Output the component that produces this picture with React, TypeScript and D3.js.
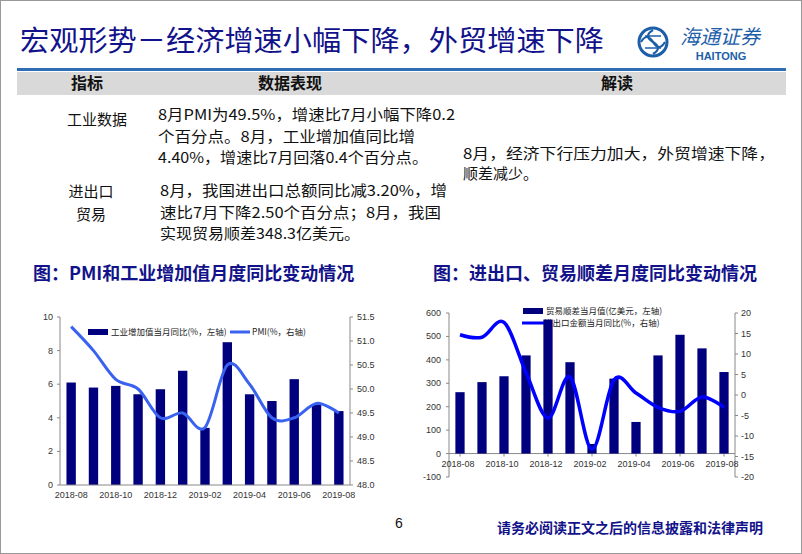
import React from 'react';
import * as d3 from 'd3';

const months = ['2018-08','2018-09','2018-10','2018-11','2018-12','2019-01','2019-02','2019-03','2019-04','2019-05','2019-06','2019-07','2019-08'];
const xTickLabels = ['2018-08','2018-10','2018-12','2019-02','2019-04','2019-06','2019-08'];

// Chart A: PMI & industrial value added
const industrialYoY = [6.1, 5.8, 5.9, 5.4, 5.7, 6.8, 3.4, 8.5, 5.4, 5.0, 6.3, 4.8, 4.4];
const pmi = [51.3, 50.8, 50.2, 50.0, 49.4, 49.5, 49.2, 50.5, 50.1, 49.4, 49.4, 49.7, 49.5];
const leftTicksA = [0, 2, 4, 6, 8, 10];
const rightTicksA = [48.0, 48.5, 49.0, 49.5, 50.0, 50.5, 51.0, 51.5];

// Chart B: trade balance & trade YoY
const tradeBalance = [262, 305, 330, 419, 572, 390, 41, 320, 135, 419, 507, 449, 348];
const tradeYoY = [14.7, 14.1, 17.7, 5.5, -5.6, 4.4, -13.3, 3.7, 0.5, -3.0, -4.0, -0.5, -3.0];
const leftTicksB = [-100, 0, 100, 200, 300, 400, 500, 600];
const rightTicksB = [-20, -15, -10, -5, 0, 5, 10, 15, 20];

const titleText = '宏观形势－经济增速小幅下降，外贸增速下降';
const tableHeaders = ['指标', '数据表现', '解读'];
const row1Label = ['工业数据'];
const row1Lines = ['8月PMI为49.5%，增速比7月小幅下降0.2', '个百分点。8月，工业增加值同比增', '4.40%，增速比7月回落0.4个百分点。'];
const row1Widths = [297, 257, 270];
const row2Label = ['进出口', '贸易'];
const row2Lines = ['8月，我国进出口总额同比减3.20%，增', '速比7月下降2.50个百分点；8月，我国', '实现贸易顺差348.3亿美元。'];
const row2Widths = [287, 281, 200];
const interpLines = ['8月，经济下行压力加大，外贸增速下降，', '顺差减少。'];
const interpWidths = [312, 75];
const chartTitleA = '图：PMI和工业增加值月度同比变动情况';
const chartTitleB = '图：进出口、贸易顺差月度同比变动情况';
const legendA = ['工业增加值当月同比(%，左轴)', 'PMI(%，右轴)'];
const legendB = ['贸易顺差当月值(亿美元，左轴)', '进出口金额当月同比(%，右轴)'];
const footerText = '请务必阅读正文之后的信息披露和法律声明';

const NAVY = '#12128a';
const BAR = '#00007f';
const CJK = '"Noto Sans CJK SC", sans-serif';
const BODY = '"Liberation Sans Narrow", "Noto Sans CJK SC", sans-serif';
const AX = '"Liberation Sans", Arial, sans-serif';

function ChartA() {
  const x = d3.scaleBand().domain(months).range([60, 350]).paddingInner(0.58).paddingOuter(0.29);
  const yL = d3.scaleLinear().domain([0, 10]).range([485, 317]);
  const yR = d3.scaleLinear().domain([48, 51.5]).range([485, 317]);
  const cx = (m: string) => (x(m) as number) + x.bandwidth() / 2;
  const line = d3.line<number>().x((_, i) => cx(months[i])).y(d => yR(d)).curve(d3.curveCardinal.tension(0));
  return (
    <g>
      <defs><clipPath id="clipA"><rect x={20} y={290} width={370} height={208} /></clipPath></defs>
      <g clipPath="url(#clipA)">
        {months.map((m, i) => (
          <rect key={m} x={x(m)} y={yL(industrialYoY[i])} width={x.bandwidth()} height={yL(0) - yL(industrialYoY[i])} fill={BAR} />
        ))}
        <path d={line(pmi) || ''} fill="none" stroke="#3a62f0" strokeWidth={3} />
        <line x1={60} x2={350} y1={485} y2={485} stroke="#888" />
        <line x1={60} x2={60} y1={317} y2={485} stroke="#888" />
        <line x1={350} x2={350} y1={317} y2={485} stroke="#888" />
        {leftTicksA.map(t => (
          <g key={t}>
            <line x1={57} x2={60} y1={yL(t)} y2={yL(t)} stroke="#888" />
            <text x={53} y={yL(t) + 3} textAnchor="end" fontSize={9} fontFamily={AX} fill="#333">{t}</text>
          </g>
        ))}
        {rightTicksA.map(t => (
          <g key={t}>
            <line x1={350} x2={353} y1={yR(t)} y2={yR(t)} stroke="#888" />
            <text x={357} y={yR(t) + 3} fontSize={9} fontFamily={AX} fill="#333">{t.toFixed(1)}</text>
          </g>
        ))}
        {xTickLabels.map(m => (
          <text key={m} x={cx(m)} y={498} textAnchor="middle" fontSize={9} fontFamily={AX} fill="#333">{m}</text>
        ))}
        <rect x={88} y={329} width={20} height={6} fill={BAR} />
        <text x={111} y={335} fontSize={8.5} fontFamily={CJK} fill="#222">{legendA[0]}</text>
        <line x1={230} x2={250} y1={332} y2={332} stroke="#3a62f0" strokeWidth={3} />
        <text x={252} y={335} fontSize={8.5} fontFamily={CJK} fill="#222">{legendA[1]}</text>
      </g>
    </g>
  );
}

function ChartB() {
  const x = d3.scaleBand().domain(months).range([449, 735]).paddingInner(0.58).paddingOuter(0.29);
  const yL = d3.scaleLinear().domain([-100, 600]).range([477, 313]);
  const yR = d3.scaleLinear().domain([-20, 20]).range([477, 313]);
  const cx = (m: string) => (x(m) as number) + x.bandwidth() / 2;
  const line = d3.line<number>().x((_, i) => cx(months[i])).y(d => yR(d)).curve(d3.curveCardinal.tension(0));
  return (
    <g>
      <line x1={449} x2={735} y1={yL(0)} y2={yL(0)} stroke="#888" />
      {xTickLabels.map(m => (
        <line key={m} x1={cx(m)} x2={cx(m)} y1={yL(0)} y2={yL(0) + 3} stroke="#888" />
      ))}
      <rect x={523} y={308} width={20} height={6} fill={BAR} />
      <text x={546} y={314} fontSize={8.5} fontFamily={CJK} fill="#222">{legendB[0]}</text>
      <line x1={522} x2={550} y1={323} y2={323} stroke="#0000ff" strokeWidth={3} />
      <text x={544} y={326} fontSize={8.5} fontFamily={CJK} fill="#222">{legendB[1]}</text>
      {months.map((m, i) => (
        <rect key={m} x={x(m)} y={yL(tradeBalance[i])} width={x.bandwidth()} height={yL(0) - yL(tradeBalance[i])} fill={BAR} />
      ))}
      <path d={line(tradeYoY) || ''} fill="none" stroke="#0000ff" strokeWidth={3.5} />
      <line x1={449} x2={449} y1={313} y2={477} stroke="#888" />
      <line x1={735} x2={735} y1={313} y2={477} stroke="#888" />
      {leftTicksB.map(t => (
        <g key={t}>
          <line x1={446} x2={449} y1={yL(t)} y2={yL(t)} stroke="#888" />
          <text x={441} y={yL(t) + 3} textAnchor="end" fontSize={9} fontFamily={AX} fill="#333">{t}</text>
        </g>
      ))}
      {rightTicksB.map(t => (
        <g key={t}>
          <line x1={735} x2={738} y1={yR(t)} y2={yR(t)} stroke="#888" />
          <text x={741} y={yR(t) + 3} fontSize={9} fontFamily={AX} fill="#333">{t}</text>
        </g>
      ))}
      {xTickLabels.map(m => (
        <text key={m} x={cx(m) - 2} y={467} textAnchor="middle" fontSize={9} fontFamily={AX} fill="#333">{m}</text>
      ))}
    </g>
  );
}

function Logo() {
  return (
    <g>
      <circle cx={653} cy={42} r={14} fill="none" stroke="#1d5ea8" strokeWidth={3} />
      <path d="M641,42 Q647,32 653,42 T665,42" fill="none" stroke="#1d5ea8" strokeWidth={2.2} />
      <path d="M653,30 Q643,36 653,42 T653,54" fill="none" stroke="#1d5ea8" strokeWidth={2.2} />
      <line x1={645} x2={661} y1={36} y2={36} stroke="#1d5ea8" strokeWidth={1.5} />
      <line x1={645} x2={661} y1={48} y2={48} stroke="#1d5ea8" strokeWidth={1.5} />
      <text x={680} y={44} fontSize={20} fontFamily={CJK} fontStyle="italic" fill="#1d5ea8">海通证券</text>
      <text x={721} y={60} textAnchor="middle" fontSize={11} fontWeight="bold" fontFamily={AX} fill="#1d5ea8">HAITONG</text>
    </g>
  );
}

export default function App() {
  return (
    <svg width={802} height={554} style={{ position: 'absolute', left: 0, top: 0, background: '#fff' }}>
      <rect x={0.5} y={0.5} width={801} height={553} fill="#fff" stroke="#999" />
      <text x={20} y={51} fontSize={28} fontFamily={CJK} fill={NAVY} textLength={584} lengthAdjust="spacingAndGlyphs">{titleText}</text>
      <Logo />
      <rect x={17} y={68} width={769} height={3} fill="#2f6db5" />
      <rect x={17} y={72} width={769} height={23} fill="#d9d9d9" />
      <text x={87} y={89} textAnchor="middle" fontSize={16} fontWeight="bold" fontFamily={CJK} fill="#111">{tableHeaders[0]}</text>
      <text x={290} y={89} textAnchor="middle" fontSize={16} fontWeight="bold" fontFamily={CJK} fill="#111">{tableHeaders[1]}</text>
      <text x={617} y={89} textAnchor="middle" fontSize={16} fontWeight="bold" fontFamily={CJK} fill="#111">{tableHeaders[2]}</text>
      {row1Label.map((s, i) => (
        <text key={s} x={97} y={125 + i * 22} textAnchor="middle" fontSize={15} fontFamily={CJK} fill="#111">{s}</text>
      ))}
      {row1Lines.map((s, i) => (
        <text key={s} x={158} y={120 + i * 21.5} fontSize={15} fontFamily={BODY} fill="#111" textLength={row1Widths[i]} lengthAdjust="spacingAndGlyphs">{s}</text>
      ))}
      {interpLines.map((s, i) => (
        <text key={s} x={463} y={159 + i * 20} fontSize={14.5} fontFamily={BODY} fill="#111" textLength={interpWidths[i]} lengthAdjust="spacingAndGlyphs">{s}</text>
      ))}
      {row2Label.map((s, i) => (
        <text key={s} x={91} y={197 + i * 23} textAnchor="middle" fontSize={15} fontFamily={CJK} fill="#111">{s}</text>
      ))}
      {row2Lines.map((s, i) => (
        <text key={s} x={160} y={196 + i * 21.5} fontSize={15} fontFamily={BODY} fill="#111" textLength={row2Widths[i]} lengthAdjust="spacingAndGlyphs">{s}</text>
      ))}
      <text x={33} y={280} fontSize={18} fontWeight="bold" fontFamily={CJK} fill={NAVY}>{chartTitleA}</text>
      <text x={433} y={280} fontSize={18} fontWeight="bold" fontFamily={CJK} fill={NAVY}>{chartTitleB}</text>
      <ChartA />
      <ChartB />
      <text x={399} y={528} textAnchor="middle" fontSize={14} fontFamily={AX} fill="#111">6</text>
      <text x={497} y={533} fontSize={14} fontWeight="bold" fontFamily={CJK} fill={NAVY}>{footerText}</text>
    </svg>
  );
}
